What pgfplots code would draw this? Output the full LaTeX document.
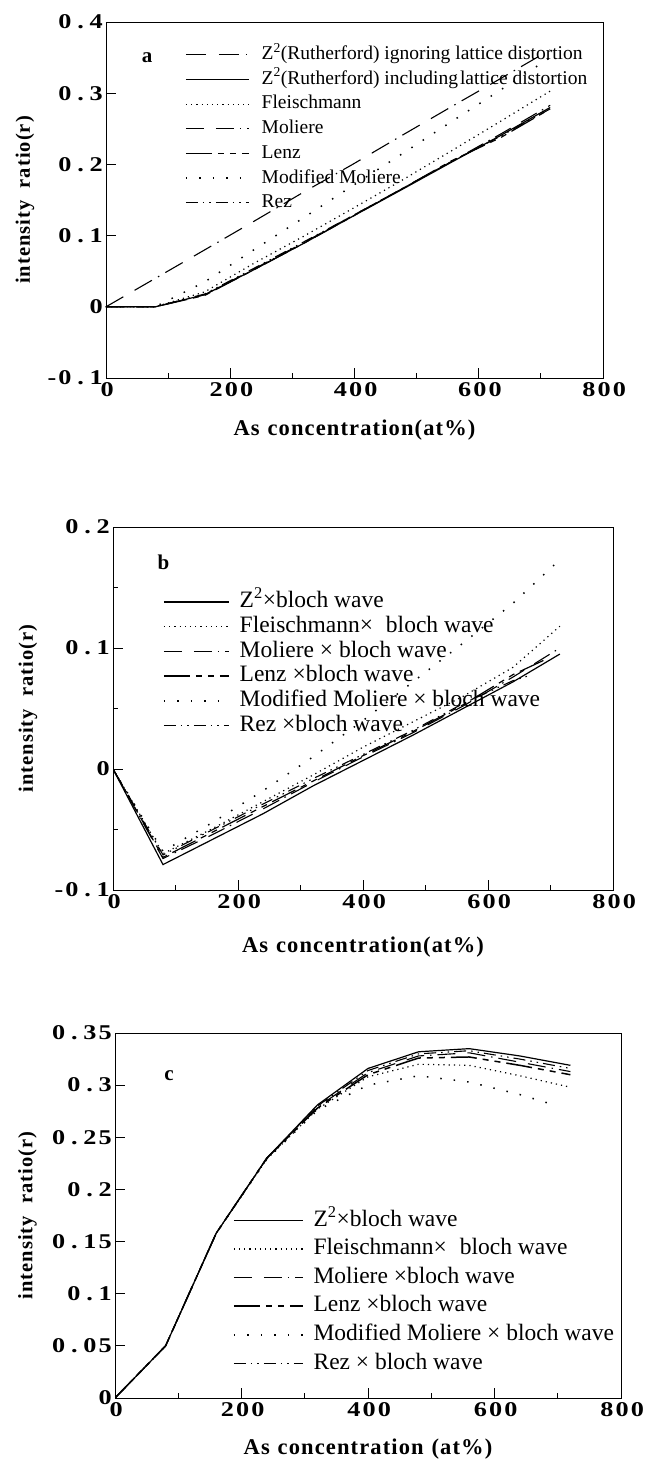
\documentclass[border=0pt]{standalone}
\usepackage{fontspec}
\setmainfont{Liberation Serif}
\newfontfamily\tickfam[LetterSpace=8]{Liberation Serif}
\newfontfamily\labfam[LetterSpace=5]{Liberation Serif}
\usepackage{pgfplots}
\pgfplotsset{compat=1.18}
\newcommand\tickfont{\tickfam\bfseries\fontsize{21}{23}\selectfont}
\newcommand\xlabfont{\labfam\bfseries\fontsize{22.5}{24}\selectfont}
\newcommand\ylabfont{\labfam\bfseries\fontsize{20.5}{22}\selectfont}
\newcommand\dt{\hspace{0.22em}.\hspace{0.22em}}
\tikzset{
 ign/.style={line width=1.1pt, dash pattern=on 20pt off 13pt on 20pt off 7pt on 1.5pt off 7pt},
 sol/.style={line width=1.2pt},
 fle/.style={line width=1.2pt, dash pattern=on 1.2pt off 4pt},
 mol/.style={line width=1.1pt, dash pattern=on 18pt off 12pt on 18pt off 6pt on 1.5pt off 6pt},
 lenz/.style={line width=1.2pt, dash pattern=on 26pt off 6pt on 6pt off 6pt on 6pt off 6pt},
 mmol/.style={line width=1.5pt, dash pattern=on 1.5pt off 12pt},
 rez/.style={line width=1.1pt, dash pattern=on 12pt off 5pt on 1.5pt off 5pt on 1.5pt off 5pt},
}
\pgfplotsset{
 panel/.style={
  scale only axis, anchor=south west,
  xmin=0, xmax=800,
  xtick={0,200,400,600,800}, xticklabels={0,200,400,600,800},
  minor xtick={100,300,500,700},
  tick pos=left, tick align=inside,
  major tick length=10pt, minor tick length=5pt,
  axis line style={line width=0.9pt},
  every tick/.style={black, line width=0.9pt},
  tick label style={font=\tickfont, xscale=1.25},
  xticklabel style={yshift=-1pt, xshift=1pt},
  yticklabel style={xshift=1pt},
  xlabel style={font=\xlabfont, anchor=center},
  ylabel style={font=\ylabfont, anchor=center},
  legend cell align=left,
  legend style={draw=none, fill=none, anchor=north west, inner sep=0pt},
 }
}
\begin{document}
\begin{tikzpicture}
\useasboundingbox (0,0) rectangle (649pt,1459pt);
% ---------------- panel a
\begin{axis}[panel,
  at={(106pt,1081pt)}, width=497pt, height=356pt,
  ymin=-0.1, ymax=0.4,
  ytick={-0.1,0,0.1,0.2,0.3,0.4}, yticklabels={-0\dt1,0,0\dt1,0\dt2,0\dt3,0\dt4},
  xlabel={As\hspace{0.35em}concentration(at\%)},
  ylabel={intensity\hspace{0.6em}ratio(r)},
  xlabel style={at={(axis description cs:0.5,-0.146)}},
  ylabel style={at={(axis description cs:-0.163,0.5)}},
  legend image code/.code={\draw[#1] (0pt,0pt) -- (63pt,0pt); \path (75pt,0pt);},
  legend style={at={(axis description cs:0.159,0.936)}, font=\fontsize{19.5}{21}\selectfont, row sep=5.2pt,
    nodes={inner sep=0pt, text height=14.6pt, text depth=4.9pt}},
]
\addplot[ign] coordinates {(0,0) (79.5,0.040) (159,0.080) (238,0.120) (318,0.161) (397,0.200) (477,0.241) (556,0.281) (636,0.321) (715,0.361)};
\addlegendentry{Z\textsuperscript{2}(Rutherford) ignoring lattice distortion}
\addplot[sol] coordinates {(0,0) (79.5,0) (159,0.017) (238,0.052) (318,0.089) (397,0.127) (477,0.165) (556,0.203) (636,0.241) (715,0.280)};
\addlegendentry{Z\textsuperscript{2}(Rutherford) including\hspace{0.1em}lattice distortion}
\addplot[fle] coordinates {(0,0) (79.5,0) (159,0.021) (238,0.061) (318,0.099) (397,0.138) (477,0.178) (556,0.219) (636,0.261) (715,0.303)};
\addlegendentry{Fleischmann}
\addplot[mol] coordinates {(0,0) (79.5,0) (159,0.017) (238,0.053) (318,0.090) (397,0.128) (477,0.166) (556,0.204) (636,0.243) (715,0.283)};
\addlegendentry{Moliere}
\addplot[lenz] coordinates {(0,0) (79.5,0) (159,0.016) (238,0.052) (318,0.089) (397,0.127) (477,0.166) (556,0.205) (636,0.238) (715,0.278)};
\addlegendentry{Lenz}
\addplot[mmol] coordinates {(0,0) (79.5,0) (159,0.035) (238,0.080) (318,0.125) (397,0.170) (477,0.215) (556,0.260) (636,0.305) (715,0.350)};
\addlegendentry{Modified Moliere}
\addplot[rez] coordinates {(0,0) (79.5,0) (159,0.018) (238,0.054) (318,0.091) (397,0.128) (477,0.166) (556,0.204) (636,0.240) (715,0.278)};
\addlegendentry{Rez}
\node[font=\bfseries\fontsize{21}{21}\selectfont] at (axis description cs:0.0825,0.899) {a};
\end{axis}
% ---------------- panel b
\begin{axis}[panel,
  at={(113pt,569pt)}, width=500pt, height=363pt,
  ymin=-0.1, ymax=0.2,
  ytick={-0.1,0,0.1,0.2}, yticklabels={-0\dt1,0,0\dt1,0\dt2},
  minor ytick={-0.05,0.05,0.15},
  xlabel={As\hspace{0.35em}concentration(at\%)},
  ylabel={intensity\hspace{0.6em}ratio(r)},
  xlabel style={at={(axis description cs:0.5,-0.157)}},
  ylabel style={at={(axis description cs:-0.17,0.5)}},
  legend image code/.code={\draw[#1] (0pt,0pt) -- (65pt,0pt); \path (75pt,0pt);},
  legend style={at={(axis description cs:0.10,0.826)}, font=\fontsize{23.5}{25}\selectfont, row sep=1.5pt,
    nodes={inner sep=0pt, text height=17.4pt, text depth=5.8pt}},
]
\addplot[sol] coordinates {(0,0) (80,-0.079) (160,-0.058) (240,-0.037) (320,-0.014) (400,0.007) (480,0.028) (560,0.050) (640,0.072) (715,0.095)};
\addlegendentry{Z\textsuperscript{2}×bloch wave}
\addplot[fle] coordinates {(0,0) (80,-0.070) (160,-0.049) (240,-0.027) (320,-0.005) (400,0.018) (480,0.039) (560,0.060) (640,0.084) (715,0.118)};
\addlegendentry{Fleischmann×\hspace{0.3em} bloch wave}
\addplot[mol] coordinates {(0,0) (80,-0.074) (160,-0.054) (240,-0.033) (320,-0.011) (400,0.010) (480,0.030) (560,0.052) (640,0.076) (715,0.100)};
\addlegendentry{Moliere × bloch wave}
\addplot[lenz] coordinates {(0,0) (80,-0.073) (160,-0.052) (240,-0.031) (320,-0.010) (400,0.011) (480,0.031) (560,0.053) (640,0.078) (690,0.090)};
\addlegendentry{Lenz ×bloch wave}
\addplot[mmol] coordinates {(0,0) (80,-0.068) (160,-0.044) (240,-0.018) (320,0.010) (400,0.040) (480,0.072) (560,0.104) (640,0.137) (715,0.173)};
\addlegendentry{Modified Moliere × bloch wave}
\addplot[rez] coordinates {(0,0) (80,-0.071) (160,-0.050) (240,-0.029) (320,-0.008) (400,0.012) (480,0.032) (560,0.054) (640,0.073) (665,0.077)};
\addlegendentry{Rez ×bloch wave}
\node[font=\bfseries\fontsize{21}{21}\selectfont] at (axis description cs:0.101,0.904) {b};
\end{axis}
% ---------------- panel c
\begin{axis}[panel,
  at={(115pt,61pt)}, width=506pt, height=365pt,
  ymin=0, ymax=0.35,
  ytick={0,0.05,0.1,0.15,0.2,0.25,0.3,0.35}, yticklabels={0,0\dt05,0\dt1,0\dt15,0\dt2,0\dt25,0\dt3,0\dt35},
  xlabel={As\hspace{0.35em}concentration\hspace{0.35em}(at\%)},
  ylabel={intensity\hspace{0.6em}ratio(r)},
  xlabel style={at={(axis description cs:0.5,-0.14)}},
  ylabel style={at={(axis description cs:-0.173,0.5)}},
  legend image code/.code={\draw[#1] (0pt,0pt) -- (69pt,0pt); \path (79pt,0pt);},
  legend style={at={(axis description cs:0.233,0.519)}, font=\fontsize{23.5}{25}\selectfont, row sep=5.4pt,
    nodes={inner sep=0pt, text height=17.4pt, text depth=5.8pt}},
]
\addplot[sol] coordinates {(0,0) (80,0.050) (160,0.158) (240,0.230) (320,0.281) (400,0.316) (480,0.332) (560,0.335) (640,0.328) (720,0.319)};
\addlegendentry{Z\textsuperscript{2}×bloch wave}
\addplot[fle] coordinates {(0,0) (80,0.050) (160,0.158) (240,0.229) (320,0.277) (400,0.308) (480,0.320) (560,0.319) (640,0.309) (720,0.298)};
\addlegendentry{Fleischmann×\hspace{0.3em} bloch wave}
\addplot[mol] coordinates {(0,0) (80,0.050) (160,0.158) (240,0.230) (320,0.279) (400,0.312) (480,0.328) (560,0.331) (640,0.322) (720,0.313)};
\addlegendentry{Moliere ×bloch wave}
\addplot[lenz, line width=1.5pt] coordinates {(0,0) (80,0.050) (160,0.158) (240,0.230) (320,0.278) (400,0.310) (480,0.326) (560,0.327) (640,0.319) (720,0.310)};
\addlegendentry{Lenz ×bloch wave}
\addplot[mmol] coordinates {(0,0) (80,0.050) (160,0.158) (240,0.229) (320,0.276) (400,0.300) (480,0.309) (560,0.303) (640,0.291) (700,0.280)};
\addlegendentry{Modified Moliere × bloch wave}
\addplot[rez] coordinates {(0,0) (80,0.050) (160,0.158) (240,0.230) (320,0.280) (400,0.314) (480,0.330) (560,0.333) (640,0.325) (720,0.316)};
\addlegendentry{Rez × bloch wave}
\node[font=\bfseries\fontsize{21}{21}\selectfont] at (axis description cs:0.107,0.882) {c};
\end{axis}
\end{tikzpicture}
\end{document}
